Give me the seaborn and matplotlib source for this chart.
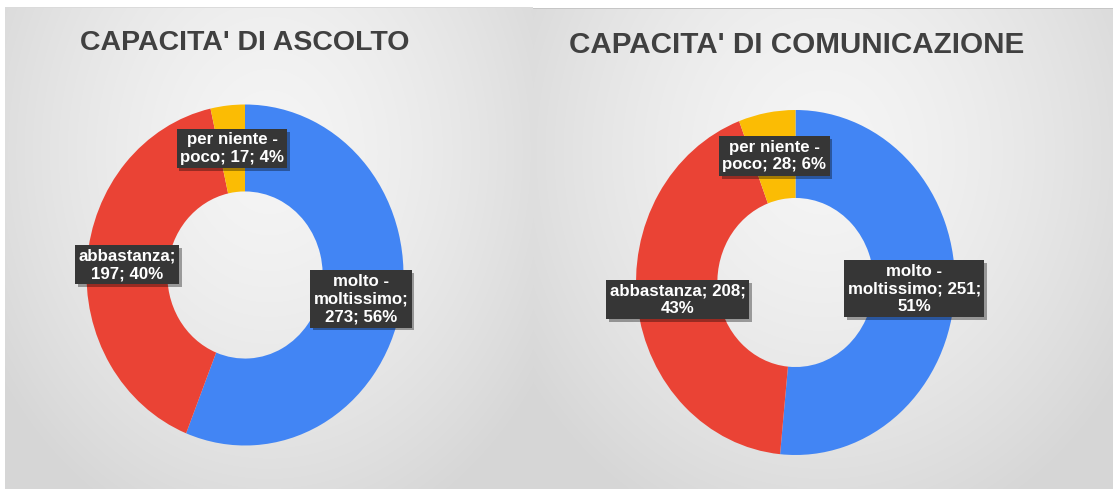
import numpy as np
import matplotlib
matplotlib.use("Agg")
import matplotlib.pyplot as plt
import matplotlib.patheffects as pe
import seaborn as sns

# ---------------- data ----------------
categories = ["molto - moltissimo", "abbastanza", "per niente - poco"]
ascolto_values = [273, 197, 17]
ascolto_pct = [56, 40, 4]
comunicazione_values = [251, 208, 28]
comunicazione_pct = [51, 43, 6]
titles = ["CAPACITA' DI ASCOLTO", "CAPACITA' DI COMUNICAZIONE"]

# label wrapping templates (as in the reference)
ascolto_fmt = ["molto -\nmoltissimo;\n{v}; {p}%", "abbastanza;\n{v}; {p}%", "per niente -\npoco; {v}; {p}%"]
comunicazione_fmt = ["molto -\nmoltissimo; {v};\n{p}%", "abbastanza; {v};\n{p}%", "per niente -\npoco; {v}; {p}%"]

# ---------------- style ----------------
sns.set_theme(style="white")
plt.rcParams["font.family"] = ["Liberation Sans", "DejaVu Sans"]
colors = sns.color_palette(["#4285F4", "#EA4335", "#FBBC04"])

W, H = 1113, 491
fig = plt.figure(figsize=(W / 100, H / 100), dpi=100)
fig.patch.set_facecolor("white")

# ---------------- background panels (gradient) ----------------
panels = [(5, 7, 533, 489), (533, 8, 1113, 489)]  # x0, y0, x1, y1 in px
img = np.ones((H, W, 3))
yy, xx = np.mgrid[0:H, 0:W]
for (x0, y0, x1, y1) in panels:
    cx = (x0 + x1) / 2
    cy = y0 + (y1 - y0) * 0.3
    dx = (xx - cx) / ((x1 - x0) * 0.62)
    dy = (yy - cy) / ((y1 - y0) * 0.85)
    d = np.clip(np.sqrt(dx ** 2 + dy ** 2), 0, 1)
    c = 0.96 - (0.96 - 0.84) * d ** 1.5
    mask = (xx >= x0) & (xx < x1) & (yy >= y0) & (yy < y1)
    for k in range(3):
        img[..., k] = np.where(mask, c, img[..., k])
# thin top border lines
img[7, 5:533] = 0.86
img[8, 533:W] = 0.78

bg = fig.add_axes([0, 0, 1, 1], zorder=0)
bg.imshow(img, extent=(0, W, H, 0), aspect="auto", interpolation="bilinear")
bg.set_xlim(0, W)
bg.set_ylim(H, 0)
bg.axis("off")

# ---------------- donuts ----------------
# (center x, center y, radius x, radius y) in px
geoms = [(245, 275, 158.5, 170.5), (795.5, 282.5, 159.5, 172.5)]
title_pos = [(244.5, 50, 20.5), (796.5, 53, 21.3)]
datasets = [(ascolto_values, ascolto_pct, ascolto_fmt),
            (comunicazione_values, comunicazione_pct, comunicazione_fmt)]

for (cx, cy, rx, ry), (vals, pcts, fmts), title, (tx, ty, tfs) in zip(geoms, datasets, titles, title_pos):
    ax = fig.add_axes([(cx - rx) / W, 1 - (cy + ry) / H, 2 * rx / W, 2 * ry / H], zorder=1)
    wedges, _ = ax.pie(vals, colors=colors, startangle=90, counterclock=False,
                       radius=1.0, wedgeprops=dict(width=0.51, edgecolor="none", linewidth=0))
    ax.set_aspect("auto")
    ax.set_xlim(-1, 1)
    ax.set_ylim(-1, 1)
    ax.axis("off")
    for w, v, p, f in zip(wedges, vals, pcts, fmts):
        ang = np.deg2rad((w.theta1 + w.theta2) / 2)
        r = 0.745
        t = ax.text(r * np.cos(ang), r * np.sin(ang), f.format(v=v, p=p),
                    ha="center", va="center", multialignment="center",
                    color="white", fontsize=12.2, fontweight="bold", linespacing=1.22,
                    zorder=5, clip_on=False,
                    bbox=dict(boxstyle="square,pad=0.2", facecolor="#363636",
                              edgecolor="none"))
        t.get_bbox_patch().set_path_effects([
            pe.SimplePatchShadow(offset=(2, -2), shadow_rgbFace="black", alpha=0.35),
            pe.Normal()])
    fig.text(tx / W, 1 - ty / H, title, ha="center", va="baseline",
             fontsize=tfs, fontweight="bold", color="#404040", zorder=3)

fig.savefig("out.png", dpi=100)
